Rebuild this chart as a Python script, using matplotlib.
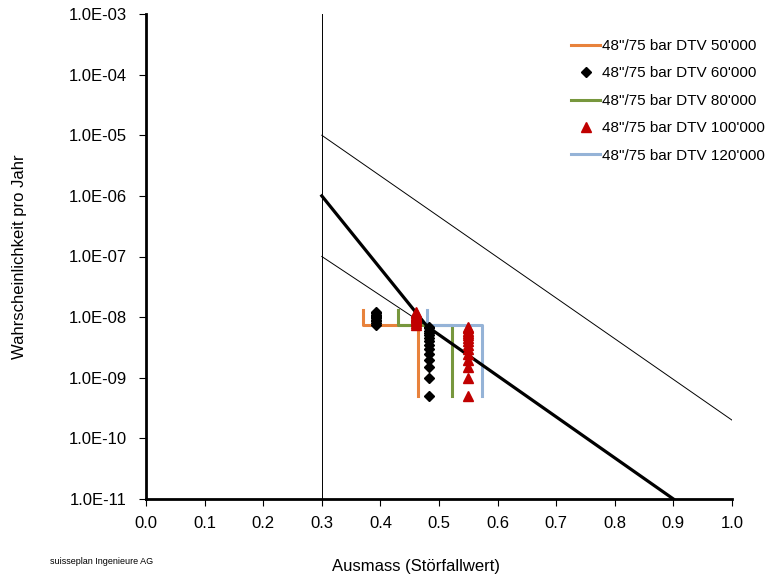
import numpy as np
import matplotlib.pyplot as plt
from matplotlib.ticker import FixedLocator, FuncFormatter

plt.rcParams['font.family'] = ['Liberation Sans', 'DejaVu Sans']

# criteria lines
upper_x = [0.3, 1.0]
upper_y = [1e-5, 2e-10]
lower_x = [0.3, 0.48]
lower_y = [1e-7, 7e-9]
thick_x = [0.3, 0.48, 0.9]
thick_y = [1e-6, 7e-9, 1e-11]
vline_x = [0.3, 0.3]
vline_y = [1e-11, 1e-3]

# 48"/75 bar DTV 50'000 / 80'000 / 120'000 (step outlines)
dtv50_x = [0.37, 0.37, 0.464, 0.464]
dtv50_y = [1.3e-8, 7.5e-9, 7.5e-9, 5e-10]
dtv80_x = [0.43, 0.43, 0.522, 0.522]
dtv80_y = [1.3e-8, 7.5e-9, 7.5e-9, 5e-10]
dtv120_x = [0.48, 0.48, 0.574, 0.574]
dtv120_y = [1.3e-8, 7.5e-9, 7.5e-9, 5e-10]

# 48"/75 bar DTV 60'000 (diamonds)
dtv60_x = [0.392, 0.392, 0.392, 0.392, 0.392, 0.392, 0.392, 0.392, 0.392, 0.392,
           0.483, 0.483, 0.483, 0.483, 0.483, 0.483, 0.483,
           0.483, 0.483, 0.483, 0.483, 0.483, 0.483, 0.483]
dtv60_y = [7.5e-9, 8.0e-9, 8.5e-9, 9.0e-9, 9.5e-9, 1.0e-8, 1.05e-8, 1.1e-8, 1.15e-8, 1.2e-8,
           5e-10, 1.0e-9, 1.5e-9, 2.0e-9, 2.5e-9, 3.0e-9, 3.5e-9,
           4.0e-9, 4.5e-9, 5.0e-9, 5.5e-9, 6.0e-9, 6.5e-9, 7.0e-9]

# 48"/75 bar DTV 100'000 (triangles)
dtv100_x = [0.46, 0.46, 0.46, 0.46, 0.46, 0.46, 0.46, 0.46, 0.46, 0.46,
            0.55, 0.55, 0.55, 0.55, 0.55, 0.55, 0.55,
            0.55, 0.55, 0.55, 0.55, 0.55, 0.55, 0.55]
dtv100_y = [7.5e-9, 8.0e-9, 8.5e-9, 9.0e-9, 9.5e-9, 1.0e-8, 1.05e-8, 1.1e-8, 1.15e-8, 1.2e-8,
            5e-10, 1.0e-9, 1.5e-9, 2.0e-9, 2.5e-9, 3.0e-9, 3.5e-9,
            4.0e-9, 4.5e-9, 5.0e-9, 5.5e-9, 6.0e-9, 6.5e-9, 7.0e-9]

xticks = [0.0, 0.1, 0.2, 0.3, 0.4, 0.5, 0.6, 0.7, 0.8, 0.9, 1.0]
yticks = [1e-11, 1e-10, 1e-9, 1e-8, 1e-7, 1e-6, 1e-5, 1e-4, 1e-3]

fig = plt.figure(figsize=(7.69, 5.82), dpi=100)
ax = fig.add_axes([146/769, 1-499/582, (732-146)/769, (499-14)/582])

ax.plot(vline_x, vline_y, color='black', lw=0.7)
ax.plot(upper_x, upper_y, color='black', lw=0.7)
ax.plot(lower_x, lower_y, color='black', lw=0.7)

ax.plot(dtv50_x, dtv50_y, color='#E8823C', lw=2.2)
ax.plot(dtv80_x, dtv80_y, color='#77973D', lw=2.2)
ax.plot(dtv120_x, dtv120_y, color='#95B3D7', lw=2.2)
ax.plot(thick_x, thick_y, color='black', lw=2.3)

ax.plot(dtv60_x, dtv60_y, 'D', color='black', ms=5, ls='none')
ax.plot(dtv100_x, dtv100_y, '^', color='#C00000', ms=7, ls='none')

# legend handles in the reference order
h50, = ax.plot([], [], color='#E8823C', lw=2.2)
h60, = ax.plot([], [], 'D', color='black', ms=5, ls='none')
h80, = ax.plot([], [], color='#77973D', lw=2.2)
h100, = ax.plot([], [], '^', color='#C00000', ms=7, ls='none')
h120, = ax.plot([], [], color='#95B3D7', lw=2.2)
ax.legend([h50, h60, h80, h100, h120],
          ['48"/75 bar DTV 50\'000', '48"/75 bar DTV 60\'000', '48"/75 bar DTV 80\'000',
           '48"/75 bar DTV 100\'000', '48"/75 bar DTV 120\'000'],
          loc='upper left', bbox_to_anchor=(571/769, 1-39/582), bbox_transform=fig.transFigure,
          frameon=False, fontsize=11, handlelength=1.9, handletextpad=0.15,
          labelspacing=0.88, borderaxespad=0, borderpad=0)

ax.set_yscale('log')
ax.set_xlim(0, 1.0)
ax.set_ylim(1e-11, 1e-3)
ax.xaxis.set_major_locator(FixedLocator(xticks))
ax.yaxis.set_major_locator(FixedLocator(yticks))
ax.yaxis.set_minor_locator(FixedLocator([]))
ax.xaxis.set_major_formatter(FuncFormatter(lambda v, p: f'{v:.1f}'))
ax.yaxis.set_major_formatter(FuncFormatter(lambda v, p: f'{v:.1E}'))
ax.tick_params(axis='both', labelsize=12, length=5, width=0.8, direction='out')
ax.tick_params(axis='y', pad=9)
ax.tick_params(axis='x', pad=7)

for s in ['top', 'right']:
    ax.spines[s].set_visible(False)
for s in ['left', 'bottom']:
    ax.spines[s].set_linewidth(2)

fig.text(20/769, 1-257/582, 'Wahrscheinlichkeit pro Jahr', fontsize=12, rotation=90,
         ha='center', va='center')
fig.text(416/769, 1-567/582, 'Ausmass (Störfallwert)', fontsize=12, ha='center', va='center')
fig.text(50/769, 1-562/582, 'suisseplan Ingenieure AG', fontsize=6.5, ha='left', va='center')

fig.savefig('out.png', dpi=100)
